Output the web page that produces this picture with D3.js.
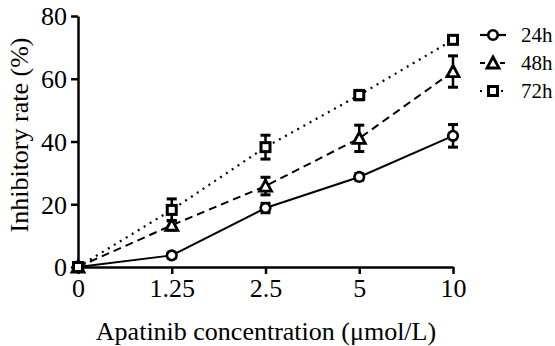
<!DOCTYPE html>
<html>
<head>
<meta charset="utf-8">
<script src="https://cdn.jsdelivr.net/npm/d3@7"></script>
</head>
<body style="margin:0;background:#fff">
<script>
// data
var concentrations = ["0", "1.25", "2.5", "5", "10"];
var seriesNames = ["24h", "48h", "72h"];
var rate24 = [0, 3.7, 18.8, 28.7, 41.8];
var err24 = [0, 0.8, 1.5, 1.0, 3.6];
var rate48 = [0, 13.3, 25.8, 41.0, 62.3];
var err48 = [0, 1.5, 2.8, 4.2, 5.0];
var rate72 = [0, 18.2, 38.2, 54.8, 72.4];
var err72 = [0, 3.5, 3.8, 1.5, 1.0];
var yTicks = [0, 20, 40, 60, 80];

var FONT = "'Times New Roman', Tinos, 'Liberation Serif', serif";
var width = 555, height = 346;
var svg = d3.select("body").append("svg")
  .attr("width", width).attr("height", height)
  .style("font-family", FONT);

var x = d3.scalePoint().domain(concentrations).range([78, 453]);
var y = d3.scaleLinear().domain([0, 80]).range([267, 16]);

var series = [
  { name: seriesNames[0], vals: rate24, errs: err24, dash: null, shape: "circle" },
  { name: seriesNames[1], vals: rate48, errs: err48, dash: "8,5", shape: "triangle" },
  { name: seriesNames[2], vals: rate72, errs: err72, dash: "2,5", shape: "square" }
];

// axes
var yAxis = svg.append("g").attr("transform", "translate(78,0)")
  .call(d3.axisLeft(y).tickValues(yTicks).tickSize(7).tickSizeOuter(0).tickPadding(4));
var xAxis = svg.append("g").attr("transform", "translate(0,267)")
  .call(d3.axisBottom(x).tickSize(7).tickSizeOuter(0).tickPadding(5));
[xAxis, yAxis].forEach(function(a){
  a.attr("font-family", null);
  a.select(".domain").attr("stroke", "#000").attr("stroke-width", 2.5);
  a.selectAll(".tick line").attr("stroke", "#000").attr("stroke-width", 2.5);
  a.selectAll(".tick text").attr("fill", "#000")
    .style("font-family", FONT).attr("font-size", 26);
});
yAxis.selectAll(".tick text").attr("dy", "0.34em");

function drawMarker(g, shape) {
  if (shape === "circle") {
    g.append("circle").attr("r", 4.8).attr("fill", "#fff").attr("stroke", "#000").attr("stroke-width", 2.6);
  } else if (shape === "triangle") {
    g.append("path").attr("d", "M0,-6L6,5L-6,5Z").attr("fill", "#fff").attr("stroke", "#000").attr("stroke-width", 2.8).attr("stroke-linejoin", "miter");
  } else {
    g.append("rect").attr("x", -4.5).attr("y", -4.5).attr("width", 9).attr("height", 9).attr("fill", "#fff").attr("stroke", "#000").attr("stroke-width", 3);
  }
}

var line = d3.line().x(function(d, i){ return x(concentrations[i]); }).y(function(d){ return y(d); });

series.forEach(function(s){
  svg.append("path").datum(s.vals)
    .attr("d", line).attr("fill", "none").attr("stroke", "#000")
    .attr("stroke-width", s.dash === "2,5" ? 2.2 : 2)
    .attr("stroke-dasharray", s.dash);
});

series.forEach(function(s){
  var g = svg.append("g");
  s.vals.forEach(function(v, i){
    var e = s.errs[i];
    if (e > 0) {
      var cx = x(concentrations[i]);
      g.append("line").attr("x1", cx).attr("x2", cx).attr("y1", y(v + e)).attr("y2", y(v - e)).attr("stroke", "#000").attr("stroke-width", 2.5);
      [v + e, v - e].forEach(function(t){
        g.append("line").attr("x1", cx - 5).attr("x2", cx + 5).attr("y1", y(t)).attr("y2", y(t)).attr("stroke", "#000").attr("stroke-width", 3);
      });
    }
  });
  s.vals.forEach(function(v, i){
    var m = g.append("g").attr("transform", "translate(" + x(concentrations[i]) + "," + y(v) + ")");
    drawMarker(m, s.shape);
  });
});

// legend
var legend = svg.append("g");
series.forEach(function(s, i){
  var ly = 35 + i * 28;
  legend.append("line").attr("x1", 480).attr("x2", 506).attr("y1", ly).attr("y2", ly)
    .attr("stroke", "#000").attr("stroke-width", 2.2).attr("stroke-dasharray", s.dash ? (s.dash === "8,5" ? "5,5" : "2,5") : null);
  var m = legend.append("g").attr("transform", "translate(493," + ly + ")");
  drawMarker(m, s.shape);
  legend.append("text").attr("x", 521).attr("y", ly + 7)
    .style("font-family", FONT).attr("font-size", 21).text(s.name);
});

// axis titles
svg.append("text").attr("x", 266).attr("y", 340).attr("text-anchor", "middle")
  .style("font-family", FONT).attr("font-size", 26).text("Apatinib concentration (\u03bcmol/L)");
svg.append("text").attr("transform", "translate(28,135) rotate(-90)").attr("text-anchor", "middle")
  .style("font-family", FONT).attr("font-size", 26).text("Inhibitory rate (%)");
</script>
</body>
</html>
